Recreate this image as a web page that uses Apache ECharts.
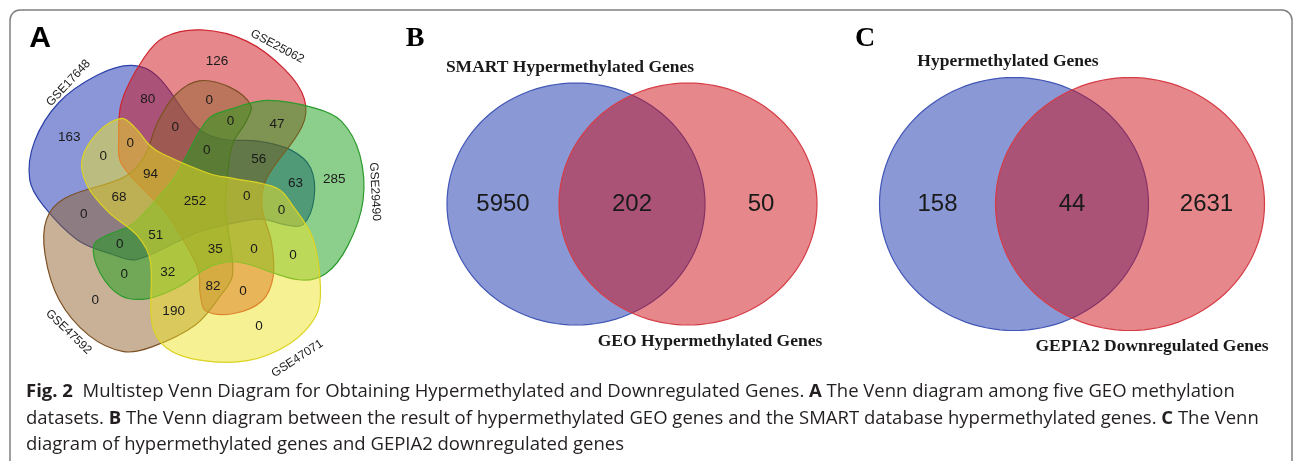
<!DOCTYPE html>
<html>
<head>
<meta charset="utf-8">
<script src="https://cdn.jsdelivr.net/npm/echarts@6/dist/echarts.min.js"></script>
<style>
html, body { margin: 0; padding: 0; background: #fff; }
#chart { width: 1293px; height: 461px; }
</style>
</head>
<body>
<div id="chart"></div>
<script>
// panel A: five GEO datasets, counter-clockwise from the top one
var setNames = ['GSE25062', 'GSE17648', 'GSE47592', 'GSE47071', 'GSE29490'];
var onlyOne = [126, 163, 0, 0, 285];
var pairsNext = [80, 0, 190, 0, 47];   // set k and set k+1
var pairsSkip = [0, 0, 0, 0, 63];      // set k and set k+2
var triplesA = [0, 68, 32, 0, 56];
var triplesB = [0, 0, 0, 82, 0];
var quadruples = [0, 94, 51, 35, 0];
var allFive = 252;

// panel B
var smartSets = ['SMART Hypermethylated Genes', 'GEO Hypermethylated Genes'];
var smartCounts = [5950, 202, 50];
// panel C
var gepiaSets = ['Hypermethylated Genes', 'GEPIA2 Downregulated Genes'];
var gepiaCounts = [158, 44, 2631];

var chart = echarts.init(document.getElementById('chart'));

var setAngle0 = 81, setStep = 72;
var drawOrder = [1, 0, 2, 4, 3];
var fills = ['rgba(205,15,25,0.5)', 'rgba(22,45,175,0.5)', 'rgba(145,100,45,0.5)', 'rgba(238,228,40,0.5)', 'rgba(25,160,25,0.5)'];
var strokes = ['#cf2530', '#2b40a8', '#7d5024', '#dcd322', '#2c9a2c'];
// one banana shaped set, main lobe pointing up (+v), far lobe down
var lobe = [[-88, 87], [-73, 133], [-56, 157], [-20, 170], [26, 166], [68, 144], [92, 118], [94, 90],
    [67, 33], [67, 5], [82, -29], [89, -62], [82, -88], [56, -105], [28, -107], [20, -92], [15, -70],
    [7, -56], [-26, -17], [-44, -3], [-79, 26], [-85, 49]];
// radius and angle offset of each kind of region
var spots = [[onlyOne, 141, 0], [pairsNext, 112, 34], [pairsSkip, 102, 1],
    [triplesA, 76, 24], [triplesB, 87, -15], [quadruples, 52, -4]];
var nameSpots = [[175, -19], [173, -16], [182, 1], [188, 6], [180, -6]];

function rad(d) { return d * Math.PI / 180; }
function polar(k, r, off) {
    var a = rad(setAngle0 + setStep * k + off);
    return [r * Math.cos(a), r * Math.sin(a)];
}
function fromLobe(k, u, v) {
    var t = rad(setAngle0 + setStep * k);
    return [u * Math.sin(t) + v * Math.cos(t), -u * Math.cos(t) + v * Math.sin(t)];
}

var regionLabels = [[0, 0, allFive]];
spots.forEach(function (s) {
    s[0].forEach(function (n, k) {
        var p = polar(k, s[1], s[2]);
        regionLabels.push([p[0], p[1], n]);
    });
});

function textItem(api, x, y, txt, font, rot) {
    var c = api.coord([x, y]);
    return {
        type: 'text', x: c[0], y: c[1], rotation: rot || 0,
        style: { text: txt, font: font, fill: '#1a1a1a', align: 'center', verticalAlign: 'middle' }
    };
}

var series = [
    {
        type: 'custom', xAxisIndex: 0, yAxisIndex: 0, silent: true,
        data: drawOrder.map(function (k) { return [k, 0]; }),
        renderItem: function (params, api) {
            var k = api.value(0);
            var pts = lobe.map(function (p) { return api.coord(fromLobe(k, p[0], p[1])); });
            return {
                type: 'polygon', shape: { points: pts, smooth: 0.35 },
                style: { fill: fills[k], stroke: strokes[k], lineWidth: 1.2 }
            };
        }
    },
    {
        type: 'custom', xAxisIndex: 0, yAxisIndex: 0, silent: true,
        data: regionLabels,
        renderItem: function (params, api) {
            return textItem(api, api.value(0), api.value(1), String(api.value(2)), '13.5px "Liberation Sans"');
        }
    },
    {
        type: 'custom', xAxisIndex: 0, yAxisIndex: 0, silent: true,
        data: setNames.map(function (n, k) { return [k, 0]; }),
        renderItem: function (params, api) {
            var k = api.value(0);
            var s = nameSpots[k];
            var p = polar(k, s[0], s[1]);
            var rot = setAngle0 + setStep * k + s[1] - 90;
            while (rot > 180) rot -= 360;
            if (rot > 90) rot -= 180;
            if (rot < -90) rot += 180;
            return textItem(api, p[0], p[1], setNames[k], '12px "Liberation Sans"', rad(rot));
        }
    }
];

function twoSet(g, sets, counts, gap, rx, ry) {
    var twoFill = ['rgba(22,49,173,0.5)', 'rgba(204,16,24,0.5)'];
    var twoStroke = ['#4156b6', '#d63c46'];
    series.push({
        type: 'custom', xAxisIndex: g, yAxisIndex: g, silent: true,
        data: [[-gap, 0], [gap, 0]],
        renderItem: function (params, api) {
            var cx = api.value(0), pts = [];
            for (var i = 0; i < 120; i++) {
                var a = Math.PI * 2 * i / 120;
                pts.push(api.coord([cx + rx * Math.cos(a), ry * Math.sin(a)]));
            }
            return {
                type: 'polygon', shape: { points: pts },
                style: { fill: twoFill[params.dataIndex], stroke: twoStroke[params.dataIndex], lineWidth: 1.2 }
            };
        }
    });
    series.push({
        type: 'custom', xAxisIndex: g, yAxisIndex: g, silent: true,
        data: [[-rx, 0, counts[0]], [0, 0, counts[1]], [rx, 0, counts[2]]],
        renderItem: function (params, api) {
            return textItem(api, api.value(0), api.value(1), String(api.value(2)), '24px "Liberation Sans"');
        }
    });
    series.push({
        type: 'custom', xAxisIndex: g, yAxisIndex: g, silent: true,
        data: [[-gap - 6, ry + 16], [gap + 22, -ry - 16]],
        renderItem: function (params, api) {
            return textItem(api, api.value(0), api.value(1), sets[params.dataIndex], 'bold 17.5px "Liberation Serif"');
        }
    });
}
twoSet(1, smartSets, smartCounts, 56, 129, 121);
twoSet(2, gepiaSets, gepiaCounts, 58, 134.5, 126.5);

var capFont = '"Open Sans", "Noto Sans", sans-serif';
var rich = {
    b: { fontWeight: 'bold', fontFamily: capFont, fontSize: 18.5, fill: '#231f20' },
    n: { fontFamily: capFont, fontSize: 18.5, fill: '#231f20' }
};
var captionLines = [
    '{b|Fig. 2}{n|  Multistep Venn Diagram for Obtaining Hypermethylated and Downregulated Genes. }{b|A}{n| The Venn diagram among five GEO methylation}',
    '{n|datasets. }{b|B}{n| The Venn diagram between the result of hypermethylated GEO genes and the SMART database hypermethylated genes. }{b|C}{n| The Venn}',
    '{n|diagram of hypermethylated genes and GEPIA2 downregulated genes}'
];

chart.setOption({
    animation: false,
    grid: [
        { left: 15, top: 21, width: 360, height: 360 },
        { left: 432, top: 24, width: 400, height: 360 },
        { left: 872, top: 24, width: 400, height: 360 }
    ],
    xAxis: [
        { type: 'value', gridIndex: 0, min: -180, max: 180, show: false },
        { type: 'value', gridIndex: 1, min: -200, max: 200, show: false },
        { type: 'value', gridIndex: 2, min: -200, max: 200, show: false }
    ],
    yAxis: [
        { type: 'value', gridIndex: 0, min: -180, max: 180, show: false },
        { type: 'value', gridIndex: 1, min: -180, max: 180, show: false },
        { type: 'value', gridIndex: 2, min: -180, max: 180, show: false }
    ],
    graphic: [
        { type: 'rect', shape: { x: 10, y: 10, width: 1282, height: 520, r: 10 }, style: { fill: 'none', stroke: '#808080', lineWidth: 1.5 }, silent: true },
        { type: 'text', x: 40, y: 39, style: { text: 'A', font: 'bold 30px "Liberation Sans"', fill: '#000', align: 'center', verticalAlign: 'middle' } },
        { type: 'text', x: 415, y: 39, style: { text: 'B', font: 'bold 28px "Liberation Serif"', fill: '#000', align: 'center', verticalAlign: 'middle' } },
        { type: 'text', x: 865, y: 39, style: { text: 'C', font: 'bold 28px "Liberation Serif"', fill: '#000', align: 'center', verticalAlign: 'middle' } }
    ].concat(captionLines.map(function (t, i) {
        return { type: 'text', x: 26, y: 392 + i * 26.5, style: { text: t, rich: rich, verticalAlign: 'middle' } };
    })),
    series: series
});
</script>
</body>
</html>
